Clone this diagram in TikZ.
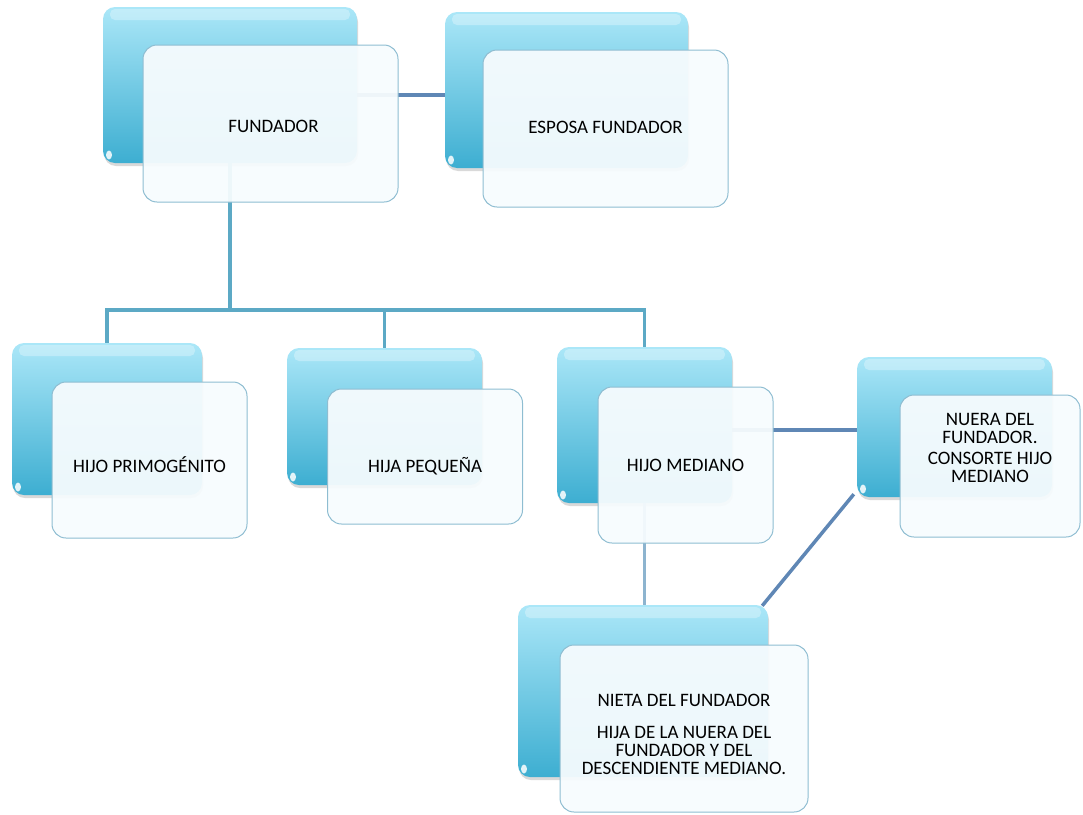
\documentclass[tikz,border=0pt]{standalone}
\usepackage{fontspec}
\setmainfont{Carlito}
\usetikzlibrary{shadows}
\definecolor{cyantop}{HTML}{ABE7F8}
\definecolor{cyanbot}{HTML}{3DAED1}
\definecolor{frontfill}{HTML}{F7FCFE}
\definecolor{frontline}{HTML}{8EBDD1}
\definecolor{tree}{HTML}{5CA9C5}
\definecolor{couple}{HTML}{5F87B5}
\definecolor{offspring}{HTML}{8DB4CF}

\tikzset{
  backbox/.style={rectangle, rounded corners=12pt, top color=cyantop, bottom color=cyanbot, draw=none,
    drop shadow={opacity=0.3,shadow xshift=1pt,shadow yshift=-3pt},
    path picture={
      \fill[white,opacity=0.3,rounded corners=5pt] ([xshift=7pt,yshift=-2pt]path picture bounding box.north west)
        rectangle ([xshift=-7pt,yshift=-13pt]path picture bounding box.north east);
      \fill[white,opacity=0.85] ([xshift=6pt,yshift=8pt]path picture bounding box.south west) ellipse (3pt and 4.5pt);
    }},
  frontbox/.style={rectangle, rounded corners=14pt, fill=frontfill, fill opacity=0.94, draw=frontline, line width=1pt},
  famtext/.style={font=\fontsize{19}{18}\selectfont, align=center, text=black, opacity=1, text opacity=1},
  treeline/.style={tree, line width=3.5pt},
  coupleline/.style={couple, line width=3.5pt},
  childline/.style={offspring, line width=3.5pt},
}

\begin{document}
\begin{tikzpicture}[x=1pt,y=-1pt]
  \useasboundingbox (0,0) rectangle (1083,814);

  % back boxes
  \node[backbox,minimum width=254,minimum height=156] (fundB) at (230,85) {};
  \node[backbox,minimum width=243,minimum height=156] (espB) at (566.5,90) {};
  \node[backbox,minimum width=190,minimum height=152] (primB) at (107,419) {};
  \node[backbox,minimum width=195,minimum height=137] (peqB) at (384.5,416.5) {};
  \node[backbox,minimum width=175,minimum height=156] (medB) at (644.5,425) {};
  \node[backbox,minimum width=195,minimum height=140] (nuerB) at (954.5,427) {};
  \node[backbox,minimum width=250,minimum height=172] (nietB) at (643,691) {};

  % connectors
  \draw[treeline] (fundB.south) -- (fundB.south |- 0,310) coordinate (bus);
  \foreach \c in {primB,peqB,medB}
    \draw[treeline] (bus) -| (\c.north);
  \draw[coupleline] ([yshift=-10pt]fundB.east) -- ([yshift=-10pt]fundB.east -| espB.west);
  \draw[coupleline] ([yshift=-5pt]medB.east) -- ([yshift=-5pt]medB.east -| nuerB.west);
  \draw[childline] (medB.south) -- (medB.south |- nietB.north);
  \draw[coupleline] ([xshift=-3pt,yshift=3pt]nuerB.south west) -- ([xshift=-6pt,yshift=-1pt]nietB.north east);

  % front boxes
  \node[frontbox,minimum width=255,minimum height=157,
    label={[famtext,yshift=-2.5pt,xshift=3pt]center:FUNDADOR}] (fund) at (270.5,123.5) {};
  \node[frontbox,minimum width=245,minimum height=157,
    label={[famtext,yshift=1.5pt]center:ESPOSA FUNDADOR}] (esp) at (605.5,128.5) {};
  \node[frontbox,minimum width=195,minimum height=156,
    label={[famtext,yshift=-5pt]center:HIJO PRIMOGÉNITO}] (prim) at (149.5,460) {};
  \node[frontbox,minimum width=195,minimum height=135,
    label={[famtext,yshift=-9.5pt]center:HIJA PEQUEÑA}] (peq) at (425,456.5) {};
  \node[frontbox,minimum width=175,minimum height=156,
    label={[famtext]center:HIJO MEDIANO}] (med) at (685.5,465) {};
  \node[frontbox,minimum width=180,minimum height=142,
    label={[famtext,yshift=18pt]center:NUERA DEL\\FUNDADOR.\\[3pt]CONSORTE HIJO\\MEDIANO}] (nuer) at (990,466) {};
  \node[frontbox,minimum width=248,minimum height=167,
    label={[famtext,yshift=-5.5pt]center:NIETA DEL FUNDADOR\\[14pt]HIJA DE LA NUERA DEL\\FUNDADOR Y DEL\\DESCENDIENTE MEDIANO.}] (niet) at (684,728.5) {};
\end{tikzpicture}
\end{document}
